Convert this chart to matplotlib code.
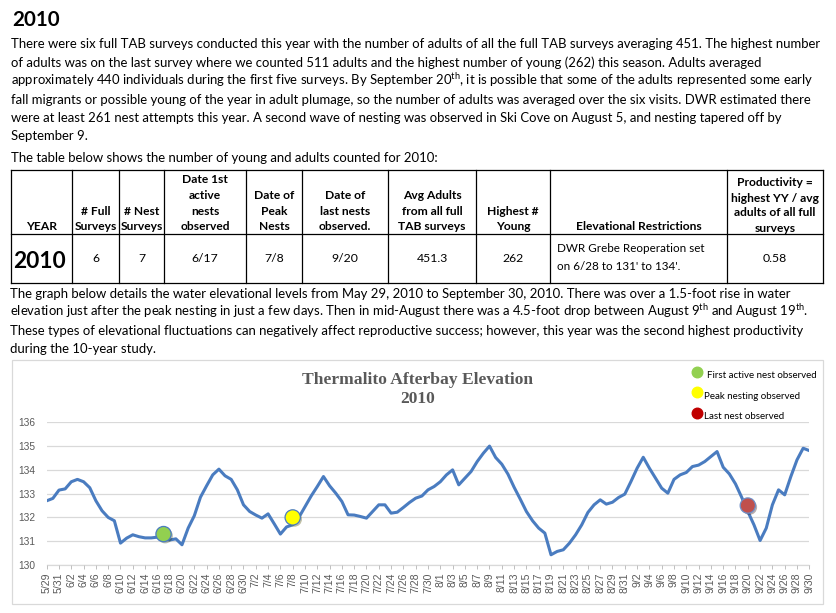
import matplotlib
matplotlib.use('Agg')
import matplotlib.pyplot as plt
import matplotlib.patheffects as pe
from matplotlib.patches import Rectangle

# ---------------- data ----------------
month_names = [5, 6, 7, 8, 9]
month_first = [29, 1, 1, 1, 1]
month_last = [31, 30, 31, 31, 30]

may_vals = [132.7, 132.8, 133.15]
jun_vals = [133.2, 133.5, 133.6, 133.5, 133.25, 132.7, 132.28, 132.0, 131.86, 130.92,
            131.13, 131.27, 131.19, 131.14, 131.14, 131.17, 131.12, 131.05, 131.1, 130.85,
            131.55, 132.07, 132.85, 133.33, 133.79, 134.03, 133.75, 133.6, 133.16, 132.53]
jul_vals = [132.25, 132.1, 131.97, 132.15, 131.73, 131.3, 131.6, 131.69, 132.0, 132.45,
            132.9, 133.3, 133.72, 133.33, 133.02, 132.67, 132.11, 132.1, 132.04, 131.97,
            132.25, 132.53, 132.53, 132.18, 132.22, 132.42, 132.63, 132.81, 132.9, 133.16,
            133.3]
aug_vals = [133.5, 133.79, 134.0, 133.37, 133.65, 133.93, 134.35, 134.7, 135.0, 134.52,
            134.24, 133.82, 133.27, 132.77, 132.25, 131.86, 131.55, 131.34, 130.43, 130.57,
            130.64, 130.92, 131.27, 131.69, 132.21, 132.53, 132.74, 132.56, 132.64, 132.84,
            132.98]
sep_vals = [133.51, 134.07, 134.53, 134.07, 133.65, 133.23, 133.02, 133.6, 133.79, 133.89,
            134.14, 134.2, 134.35, 134.56, 134.77, 134.11, 133.83, 133.41, 132.85, 132.25,
            131.69, 131.03, 131.55, 132.53, 133.16, 132.95, 133.72, 134.42, 134.91, 134.81]

elevation = may_vals + jun_vals + jul_vals + aug_vals + sep_vals
dates = []
for m, a, b in zip(month_names, month_first, month_last):
    for d in range(a, b + 1):
        dates.append(f"{m}/{d}")

event_dates = ['6/17', '7/8', '9/20']
event_levels = [131.3, 132.0, 132.5]
event_colors = ['#92D050', '#FFFF00', '#C0504D']
legend_labels = ['First active nest observed', 'Peak nesting observed', 'Last nest observed']
legend_colors = ['#92D050', '#FFFF00', '#C00000']
y_ticks = [130, 131, 132, 133, 134, 135, 136]

chart_title = ['Thermalito Afterbay Elevation', '2010']
page_title = '2010'

para1 = [
    "There were six full TAB surveys conducted this year with the number of adults of all the full TAB surveys averaging 451. The highest number",
    "of adults was on the last survey where we counted 511 adults and the highest number of young (262) this season. Adults averaged",
    r"approximately 440 individuals during the first five surveys. By September 20$^{\mathrm{th}}$, it is possible that some of the adults represented some early",
    "fall migrants or possible young of the year in adult plumage, so the number of adults was averaged over the six visits. DWR estimated there",
    "were at least 261 nest attempts this year. A second wave of nesting was observed in Ski Cove on August 5, and nesting tapered off by",
    "September 9.",
]
table_intro = "The table below shows the number of young and adults counted for 2010:"
para2 = [
    "The graph below details the water elevational levels from May 29, 2010 to September 30, 2010. There was over a 1.5-foot rise in water",
    r"elevation just after the peak nesting in just a few days. Then in mid-August there was a 4.5-foot drop between August 9$^{\mathrm{th}}$ and August 19$^{\mathrm{th}}$.",
    "These types of elevational fluctuations can negatively affect reproductive success; however, this year was the second highest productivity",
    "during the 10-year study.",
]

table_headers = [
    ["YEAR"], ["# Full", "Surveys"], ["# Nest", "Surveys"],
    ["Date 1st", "active", "nests", "observed"], ["Date of", "Peak", "Nests"],
    ["Date of", "last nests", "observed."], ["Avg Adults", "from all full", "TAB surveys"],
    ["Highest #", "Young"], ["Elevational Restrictions"],
    ["Productivity =", "highest YY / avg", "adults of all full", "surveys"],
]
table_row = ["2010", "6", "7", "6/17", "7/8", "9/20", "451.3", "262",
             ["DWR Grebe Reoperation set", "on 6/28 to 131' to 134'."], "0.58"]

# ---------------- style / layout ----------------
BODY = ['Lato', 'DejaVu Sans']
plt.rcParams['font.family'] = BODY
plt.rcParams['mathtext.fontset'] = 'custom'
plt.rcParams['mathtext.rm'] = 'Lato'
plt.rcParams['mathtext.it'] = 'Lato:italic'
plt.rcParams['mathtext.bf'] = 'Lato:bold'

W, H = 837, 613
fig = plt.figure(figsize=(W / 100, H / 100), dpi=100)
ov = fig.add_axes([0, 0, 1, 1])
ov.set_xlim(0, W)
ov.set_ylim(H, 0)
ov.axis('off')
R = fig.canvas.get_renderer()


def fit_size(s, target, **kw):
    t = ov.text(0, 0, s, fontsize=10, **kw)
    w = t.get_window_extent(R).width
    t.remove()
    return 10.0 * target / w


# page title
fs_t = fit_size(page_title, 48, weight='bold')
ov.text(12, 26, page_title, fontsize=fs_t, weight='bold', va='baseline', ha='left')

# paragraphs
fs_p = fit_size(para1[0], 813)
for i, line in enumerate(para1):
    ov.text(11.5, 48.5 + i * 18.4, line, fontsize=fs_p, va='baseline', ha='left')
ov.text(11.5, 161.5, table_intro, fontsize=fs_p, va='baseline', ha='left')
for i, line in enumerate(para2):
    ov.text(10.5, 297.5 + i * 18.6, line, fontsize=fs_p, va='baseline', ha='left')

# table
borders = [11, 72, 119, 164, 246, 302, 388, 476, 550, 727, 823]
t_top, t_mid, t_bot = 169.5, 234, 282.5
lw_t = 0.9
for yy in (t_top, t_mid, t_bot):
    ov.plot([borders[0], borders[-1]], [yy, yy], color='black', lw=lw_t, solid_capstyle='projecting')
for xx in borders:
    ov.plot([xx, xx], [t_top, t_bot], color='black', lw=lw_t)

fs_h = fit_size("Surveys", 42.5, weight='bold')
fs_d = fit_size("DWR Grebe Reoperation set", 147)
fs_y = fit_size("2010", 53, weight='bold')
for c, lines in enumerate(table_headers):
    cx = (borders[c] + borders[c + 1]) / 2
    n = len(lines)
    if c == len(table_headers) - 1:
        base, step = 231.5, 15.0
    else:
        base, step = 230.5, 15.7
    for k, ln in enumerate(lines):
        ov.text(cx, base - (n - 1 - k) * step, ln, fontsize=fs_h, weight='bold',
                ha='center', va='baseline')
for c, val in enumerate(table_row):
    cx = (borders[c] + borders[c + 1]) / 2
    if c == 0:
        ov.text(cx - 2, 267.5, val, fontsize=fs_y, weight='bold', ha='center', va='baseline')
    elif isinstance(val, list):
        ov.text(borders[c] + 7, 251.7, val[0], fontsize=fs_d, ha='left', va='baseline')
        ov.text(borders[c] + 7, 270.2, val[1], fontsize=fs_d, ha='left', va='baseline')
    else:
        ov.text(cx, 262.5, val, fontsize=fs_d * 1.05, ha='center', va='baseline')

# chart frame
ov.add_patch(Rectangle((12.5, 359.5), 823 - 12.5, 603.5 - 359.5, fill=False,
                       edgecolor='#D9D9D9', lw=0.9))

# chart title
SERIF = ['Liberation Serif', 'DejaVu Serif']
fs_ct = fit_size(chart_title[0], 231, family=SERIF, weight='bold')
ov.text(417.5, 384.5, chart_title[0], fontsize=fs_ct, family=SERIF, weight='bold',
        color='#595959', ha='center', va='baseline')
ov.text(417.5, 403.0, chart_title[1], fontsize=fs_ct, family=SERIF, weight='bold',
        color='#595959', ha='center', va='baseline')

# legend
fs_l = fit_size(legend_labels[0], 111)
leg_y = [371.5, 392.3, 412.5]
leg_tx = [707.3, 704.3, 704.3]
for lab, col, yy, tx in zip(legend_labels, legend_colors, leg_y, leg_tx):
    ov.plot([697.3], [yy], 'o', ms=7.6, color=col, mec=col)
    ov.text(tx, yy + 6.3, lab, fontsize=fs_l, ha='left', va='baseline')

# chart axes
x0, x1 = 46.7, 809.3
y_top, y_bot = 422.3, 565.0
ax = fig.add_axes([x0 / W, 1 - y_bot / H, (x1 - x0) / W, (y_bot - y_top) / H])
ax.set_facecolor('none')
xs = list(range(len(elevation)))
ax.plot(xs, elevation, color='#4A7CC0', lw=2.2, solid_joinstyle='round',
        solid_capstyle='round', zorder=3)
for dt, lv, col in zip(event_dates, event_levels, event_colors):
    edge = '#4A7CC0' if col != '#C0504D' else '#6F8FC8'
    ax.plot([dates.index(dt)], [lv], 'o', ms=11, mfc=col, mec=edge, mew=0.9, zorder=4,
            path_effects=[pe.SimplePatchShadow(offset=(1.2, -1.2), alpha=0.35), pe.Normal()])

ax.set_xlim(0, len(elevation) - 1)
ax.set_ylim(130, 136)
ax.set_yticks(y_ticks)
ax.set_yticklabels([str(v) for v in y_ticks], family=['Liberation Sans', 'DejaVu Sans'],
                   fontsize=7.3, color='#595959')
ax.set_xticks(xs[::2])
ax.set_xticklabels(dates[::2], rotation=90, family=['Liberation Sans', 'DejaVu Sans'],
                   fontsize=7.6, color='#595959')
ax.tick_params(axis='y', length=0, pad=8.5)
ax.tick_params(axis='x', length=3.2, width=0.7, color='#BFBFBF', pad=2)
ax.grid(axis='y', color='#D9D9D9', lw=0.9, zorder=0)
for s in ax.spines.values():
    s.set_visible(False)
ax.axhline(130, color='#D9D9D9', lw=0.9, zorder=1, clip_on=False)

fig.savefig('out.png', dpi=100)
